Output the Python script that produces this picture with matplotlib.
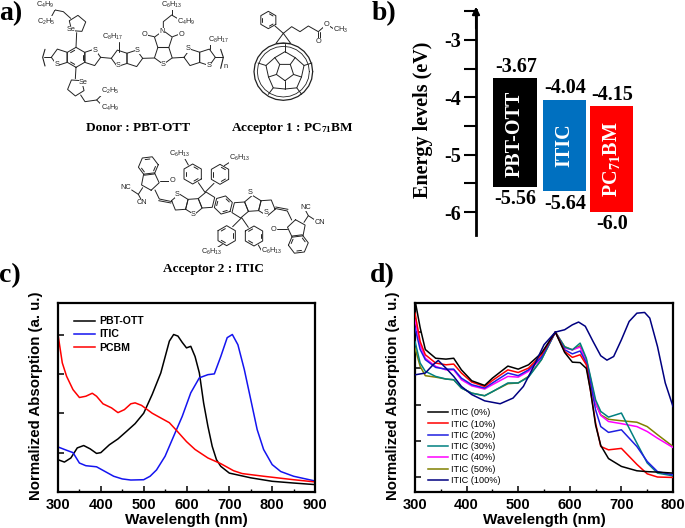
import numpy as np
import matplotlib
matplotlib.use("Agg")
import matplotlib.pyplot as plt
from matplotlib.ticker import MultipleLocator

plt.rcParams["mathtext.default"] = "regular"
W, H = 685, 528
SERIF = "Liberation Serif"
SANS = "Liberation Sans"

# -------------------------------------------------
# data: panel b
# -------------------------------------------------
materials = ["PBT-OTT", "ITIC", "PC$_{71}$BM"]
lumo = [-3.67, -4.04, -4.15]
homo = [-5.56, -5.64, -6.0]
lumo_labels = ["-3.67", "-4.04", "-4.15"]
homo_labels = ["-5.56", "-5.64", "-6.0"]
energy_ticks = [-3, -4, -5, -6]

# -------------------------------------------------
# data: panel c
# -------------------------------------------------
c_names = ["PBT-OTT", "ITIC", "PCBM"]
ott_wl = [300, 315, 330, 345, 360, 375, 390, 400, 420, 440, 460, 480, 500, 520, 540, 560, 570, 580, 590, 600,
          610, 620, 630, 640, 650, 660, 670, 680, 700, 750, 800, 850, 900]
ott_abs = [.205, .19, .216, .28, .295, .274, .245, .25, .30, .337, .385, .434, .50, .62, .756, .958, 1.0, .99,
           .95, .915, .925, .86, .756, .565, .417, .29, .205, .163, .12, .09, .068, .057, .047]
itic_wl = [300, 320, 335, 350, 365, 390, 410, 430, 450, 470, 500, 515, 530, 550, 570, 590, 610, 630, 650, 665,
           680, 695, 707, 720, 735, 750, 765, 780, 800, 820, 850, 900]
itic_abs = [.286, .265, .25, .184, .167, .16, .13, .10, .083, .076, .078, .10, .14, .227, .354, .48, .63, .725,
            .745, .75, .86, .98, 1.0, .935, .777, .587, .396, .27, .174, .13, .10, .07]
pcbm_wl = [300, 310, 320, 335, 350, 365, 380, 390, 405, 425, 440, 455, 470, 480, 495, 520, 540, 560, 575, 600,
           620, 650, 680, 710, 730, 780, 850, 900]
pcbm_abs = [1.0, .82, .735, .65, .60, .608, .627, .608, .56, .534, .504, .523, .56, .566, .55, .50, .47, .44,
            .396, .32, .27, .216, .18, .135, .117, .10, .078, .064]

# -------------------------------------------------
# data: panel d
# -------------------------------------------------
d_names = ["ITIC (0%)", "ITIC (10%)", "ITIC (20%)", "ITIC (30%)", "ITIC (40%)", "ITIC (50%)", "ITIC (100%)"]
d_colors = ["black", "red", "#1f1fe0", "#008080", "magenta", "#808000", "#000080"]
blend_wl = [300, 310, 320, 340, 360, 375, 390, 410, 435, 450, 480, 500, 520, 545, 572, 590, 605, 620, 632, 640,
            650, 660, 675, 700, 730, 750, 770, 800]
itic_0 = [1.22, 1.03, .88, .82, .814, .82, .74, .665, .633, .683, .766, .745, .775, .855, 1.0, .86, .793, .79,
          .75, .60, .36, .22, .13, .076, .046, .04, .037, .03]
itic_10 = [1.13, .935, .844, .787, .775, .78, .718, .656, .626, .667, .74, .722, .752, .844, 1.0, .867, .826,
           .844, .775, .60, .374, .213, .19, .20, .09, .025, .003, .0]
itic_20 = [1.03, .88, .81, .757, .745, .745, .683, .638, .615, .65, .718, .70, .74, .828, 1.0, .878, .85, .87,
           .787, .65, .465, .35, .31, .328, .213, .11, .04, .018]
itic_30 = [.935, .787, .73, .695, .677, .672, .615, .58, .562, .59, .65, .65, .69, .81, 1.0, .897, .878, .924,
           .82, .695, .534, .454, .415, .443, .236, .10, .03, .011]
itic_40 = [1.085, .913, .82, .764, .74, .74, .672, .63, .608, .638, .695, .69, .73, .82, 1.0, .89, .878, .897,
           .798, .672, .51, .427, .385, .37, .35, .316, .27, .206]
itic_50 = [.89, .764, .70, .69, .677, .672, .615, .58, .562, .59, .645, .65, .695, .81, 1.0, .90, .878, .906,
           .81, .683, .51, .43, .40, .39, .38, .35, .294, .213]
itic_100_wl = [300, 320, 335, 345, 360, 375, 390, 410, 435, 465, 490, 510, 530, 550, 572, 590, 605, 617, 630,
               645, 660, 672, 685, 700, 715, 730, 745, 755, 770, 785, 800]
itic_100 = [.706, .718, .775, .805, .752, .695, .626, .57, .527, .507, .546, .626, .764, .913, 1.0, 1.016, 1.05,
            1.069, 1.04, .936, .837, .807, .832, .947, 1.073, 1.13, 1.135, 1.096, .90, .65, .488]

fig = plt.figure(figsize=(W / 100, H / 100), dpi=100)


def px_axes(l, t, r, b):
    return fig.add_axes([l / W, 1 - b / H, (r - l) / W, (b - t) / H])


# -------------------------------------------------
# molecule drawing helpers (overlay in pixel units)
# -------------------------------------------------
over = fig.add_axes([0, 0, 1, 1])
over.set_xlim(0, W)
over.set_ylim(H, 0)
over.axis("off")
MOL = "#222222"


def bonds(points, ox=0, oy=0, lw=0.7):
    xs = [ox + p[0] / 3 for p in points]
    ys = [oy + p[1] / 3 for p in points]
    over.plot(xs, ys, color=MOL, lw=lw, solid_capstyle="round")


def ring(cx, cy, r, n, rot=90, ox=0, oy=0, inner=False):
    a = np.radians(rot) + np.arange(n + 1) * 2 * np.pi / n
    bonds(list(zip(cx + r * np.cos(a), cy + r * np.sin(a))), ox, oy)
    if inner:
        for i in range(0, n - 1, 2):
            t = np.array([.2, .8])
            xa = cx + .78 * r * np.cos(a[i]) * (1 - t) + .78 * r * np.cos(a[i + 1]) * t
            ya = cy + .78 * r * np.sin(a[i]) * (1 - t) + .78 * r * np.sin(a[i + 1]) * t
            bonds(list(zip(xa, ya)), ox, oy)


def atom(x, y, s, ox=0, oy=0, size=5.3):
    over.text(ox + x / 3, oy + y / 3, s, fontsize=size, family=SANS, ha="center", va="center",
              color=MOL, bbox=dict(fc="white", ec="none", pad=0.2))


# donor polymer
ring(228, 172, 30, 6, inner=True)
ring(180, 172, 26, 5, rot=180)
ring(276, 172, 26, 5, rot=0)
ring(360, 175, 26, 5, rot=180)
ring(402, 175, 26, 5, rot=0)
ring(490, 165, 28, 5, rot=90)
ring(490, 120, 28, 5, rot=-90)
ring(578, 172, 26, 5, rot=180)
ring(620, 172, 26, 5, rot=0)
ring(232, 72, 26, 5, rot=130)
ring(228, 262, 26, 5, rot=-50)
bonds([(228, 142), (230, 98)])
bonds([(228, 202), (226, 236)])
bonds([(302, 172), (334, 175)])
bonds([(428, 175), (463, 174)])
bonds([(517, 174), (552, 172)])
bonds([(132, 172), (154, 172)])
bonds([(646, 172), (668, 172)])
bonds([(135, 148), (128, 172), (135, 198)], lw=0.8)
bonds([(662, 148), (670, 172), (662, 205)], lw=0.8)
bonds([(212, 55), (190, 35), (165, 30), (150, 20)])
bonds([(165, 30), (150, 58)])
bonds([(242, 285), (255, 305), (290, 300), (310, 280)])
bonds([(290, 300), (310, 320)])
bonds([(357, 125), (357, 155)])
bonds([(630, 125), (630, 148)])
bonds([(490, 95), (490, 65), (515, 45), (540, 60)])
bonds([(515, 45), (515, 28)])
bonds([(462, 110), (440, 105)])
bonds([(518, 110), (537, 103)])
for x, y, s in [(135, 14, "C$_4$H$_9$"), (140, 65, "C$_2$H$_5$"), (212, 88, "Se"), (250, 248, "Se"),
                (170, 192, "S"), (285, 150, "S"), (355, 197, "S"), (412, 150, "S"), (490, 193, "S"),
                (565, 147, "S"), (626, 197, "S"), (338, 110, "C$_8$H$_{17}$"), (655, 120, "C$_8$H$_{17}$"),
                (515, 14, "C$_6$H$_{13}$"), (560, 65, "C$_4$H$_9$"), (487, 95, "N"), (433, 105, "O"),
                (545, 103, "O"), (330, 272, "C$_2$H$_5$"), (330, 325, "C$_4$H$_9$"), (678, 198, "n")]:
    atom(x, y, s)

# PC71BM
ang = np.radians(np.arange(0, 361, 15))
bonds(list(zip(850 + 88 * np.cos(ang), 215 + 86 * np.sin(ang))), lw=0.9)
bonds(list(zip(850 + 78 * np.cos(ang), 215 + 76 * np.sin(ang))), lw=0.6)
ring(855, 215, 27, 5, rot=90)
for k in range(5):
    a0 = np.radians(90 + 72 * k)
    bonds([(855 + 27 * np.cos(a0), 215 + 27 * np.sin(a0)), (855 + 52 * np.cos(a0), 215 + 52 * np.sin(a0))])
    a1 = a0 + np.radians(36)
    pa = (855 + 52 * np.cos(a0), 215 + 52 * np.sin(a0))
    pb = (855 + 60 * np.cos(a1), 215 + 60 * np.sin(a1))
    pc = (855 + 52 * np.cos(a0 + np.radians(72)), 215 + 52 * np.sin(a0 + np.radians(72)))
    bonds([pa, pb, pc])
    bonds([pb, (855 + 85 * np.cos(a1), 215 + 84 * np.sin(a1))])
ring(805, 60, 26, 6, rot=30, inner=True)
bonds([(825, 78), (850, 100), (828, 130), (872, 130), (850, 100), (875, 80), (900, 95), (925, 78), (955, 95),
       (972, 80)])
bonds([(955, 95), (955, 118)])
bonds([(960, 95), (960, 118)])
bonds([(988, 78), (1003, 88)])
atom(980, 72, "O")
atom(955, 125, "O")
atom(1022, 90, "CH$_3$")

# ITIC: one half, then the same half turned round the central ring
OX, OY = 60, 135
ring(490, 210, 28, 6, 44, OX, OY, True)
half_rings = [(440, 197, 26, 5, 194, False), (401, 213, 26, 5, 158, False), (360, 203, 26, 5, 194, False),
              (270, 138, 28, 5, 83, False), (265, 93, 30, 6, -7, True),
              (398, 117, 30, 6, 30, True), (480, 118, 30, 6, 30, True)]
half_bonds = [[(336, 200), (298, 192), (285, 165)], [(333, 204), (296, 197)],
              [(248, 158), (235, 178), (215, 165)], [(235, 178), (243, 193)],
              [(299, 137), (328, 137)], [(415, 143), (435, 172), (462, 145)],
              [(385, 90), (375, 72)], [(493, 92), (515, 78)]]
for cx, cy, r, n, rot, inn in half_rings:
    ring(cx, cy, r, n, rot, OX, OY, inn)
    ring(980 - cx, 420 - cy, r, n, rot + 180, OX, OY, inn)
for pts in half_bonds:
    bonds(pts, OX, OY)
    bonds([(980 - p[0], 420 - p[1]) for p in pts], OX, OY)
for x, y, s in [(360, 57, "C$_6$H$_{13}$"), (540, 70, "C$_6$H$_{13}$"), (455, 352, "C$_6$H$_{13}$"),
                (635, 347, "C$_6$H$_{13}$"), (352, 178, "S"), (400, 238, "S"), (570, 172, "S"), (617, 232, "S"),
                (338, 137, "O"), (642, 283, "O"), (197, 158, "NC"), (245, 203, "CN"), (738, 217, "NC"),
                (780, 262, "CN")]:
    atom(x, y, s, OX, OY)

# captions and panel letters
over.text(138, 128, "Donor : PBT-OTT", fontsize=9.5, family=SERIF, weight="bold", ha="center", va="center")
over.text(292, 128, "Acceptor 1 : PC$_{71}$BM", fontsize=9.5, family=SERIF, weight="bold", ha="center", va="center")
over.text(213, 269, "Acceptor 2 : ITIC", fontsize=9.5, family=SERIF, weight="bold", ha="center", va="center")
for x, y, s in [(11, 14, "a)"), (384, 14, "b)"), (10, 276, "c)"), (382, 276, "d)")]:
    over.text(x, y, s, fontsize=20, family=SERIF, weight="bold", ha="center", va="center")

# -------------------------------------------------
# panel b: energy levels
# -------------------------------------------------
axb = px_axes(476, 10, 640, 235)
axb.set_xlim(476, 640)
axb.set_ylim(-6.4, -2.477)
axb.patch.set_alpha(0)
bar_x = [514.7, 564.5, 611.5]
bar_w = [44, 43, 43]
bar_colors = ["black", "#0070c0", "red"]
for i in range(3):
    axb.bar(bar_x[i], lumo[i] - homo[i], bottom=homo[i], width=bar_w[i], color=bar_colors[i])
    axb.text(bar_x[i], (lumo[i] + homo[i]) / 2 + (-0.03 if i == 0 else 0), materials[i], rotation=90, color="white",
             family=SERIF, weight="bold", fontsize=14.5, ha="center", va="center")
    axb.text(bar_x[i] + 1, lumo[i] + 0.02, lumo_labels[i], family=SERIF, weight="bold", fontsize=14.5,
             ha="center", va="bottom")
    axb.text(bar_x[i] + 1, homo[i] - 0.04, homo_labels[i], family=SERIF, weight="bold", fontsize=14.5,
             ha="center", va="top")
for s in ["top", "right", "bottom"]:
    axb.spines[s].set_visible(False)
axb.spines["left"].set_linewidth(2)
axb.set_xticks([])
axb.set_yticks(energy_ticks)
axb.set_yticklabels([str(v) for v in energy_ticks], family=SERIF, weight="bold", fontsize=14.5)
axb.yaxis.set_minor_locator(MultipleLocator(0.5))
axb.tick_params(axis="y", which="both", direction="out", length=9, width=1.5, pad=2)
axb.annotate("", xy=(476, -2.42), xytext=(476, -2.8), annotation_clip=False,
             arrowprops=dict(arrowstyle="-|>", color="black", lw=1.5, mutation_scale=11, shrinkA=0, shrinkB=0))
axb.set_ylabel("Energy levels (eV)", family=SERIF, weight="bold", fontsize=14.5, labelpad=1)
axb.yaxis.set_label_coords(-0.26, 0.51)


# -------------------------------------------------
# panel c / d
# -------------------------------------------------
def style_abs(ax, xlim, ylim, xtick, ylab_x):
    ax.set_xlim(*xlim)
    ax.set_ylim(*ylim)
    for s in ax.spines.values():
        s.set_linewidth(1.6)
    ax.xaxis.set_major_locator(MultipleLocator(xtick))
    ax.xaxis.set_minor_locator(MultipleLocator(xtick / 2))
    ax.yaxis.set_major_locator(MultipleLocator(0.25))
    ax.yaxis.set_major_formatter(plt.NullFormatter())
    ax.tick_params(which="major", direction="in", length=4, width=1.1, pad=4.5)
    ax.tick_params(which="minor", direction="in", length=2.5, width=1.0)
    for lab in ax.get_xticklabels():
        lab.set(family=SANS, weight="bold", fontsize=10.5)
    ax.set_xlabel("Wavelength (nm)", family=SANS, weight="bold", fontsize=11, labelpad=0.5)
    ax.set_ylabel("Normalized Absorption (a. u.)", family=SANS, weight="bold", fontsize=10.8)
    ax.yaxis.set_label_coords(ylab_x, 0.51)


axc = px_axes(58, 303, 315, 492)
axc.plot(ott_wl, ott_abs, color="black", lw=1.1, label=c_names[0])
axc.plot(itic_wl, itic_abs, color="#1414f0", lw=1.1, label=c_names[1])
axc.plot(pcbm_wl, pcbm_abs, color="red", lw=1.1, label=c_names[2])
style_abs(axc, (300, 900), (0, 1.2), 100, -0.06)
axc.legend(loc="upper left", bbox_to_anchor=(0.062, 0.93), frameon=False, handlelength=2.0, handletextpad=0.4,
           labelspacing=0.3, borderaxespad=0, borderpad=0, prop=dict(family=SANS, weight="bold", size=7.6))

axd = px_axes(415, 303, 673, 492)
blends = [itic_0, itic_10, itic_20, itic_30, itic_40, itic_50]
for i in range(6):
    axd.plot(blend_wl, blends[i], color=d_colors[i], lw=1.1, label=d_names[i], zorder=3 + (6 - i) * 0.1)
axd.plot(itic_100_wl, itic_100, color=d_colors[6], lw=1.1, label=d_names[6], zorder=5)
style_abs(axd, (300, 800), (-0.1, 1.2), 100, -0.06)
axd.legend(loc="lower left", bbox_to_anchor=(0.05, 0.037), frameon=False, handlelength=2.2, handletextpad=0.33,
           labelspacing=0.25, borderaxespad=0, borderpad=0, prop=dict(family=SANS, size=6.6))

fig.savefig("out.png", dpi=100)
